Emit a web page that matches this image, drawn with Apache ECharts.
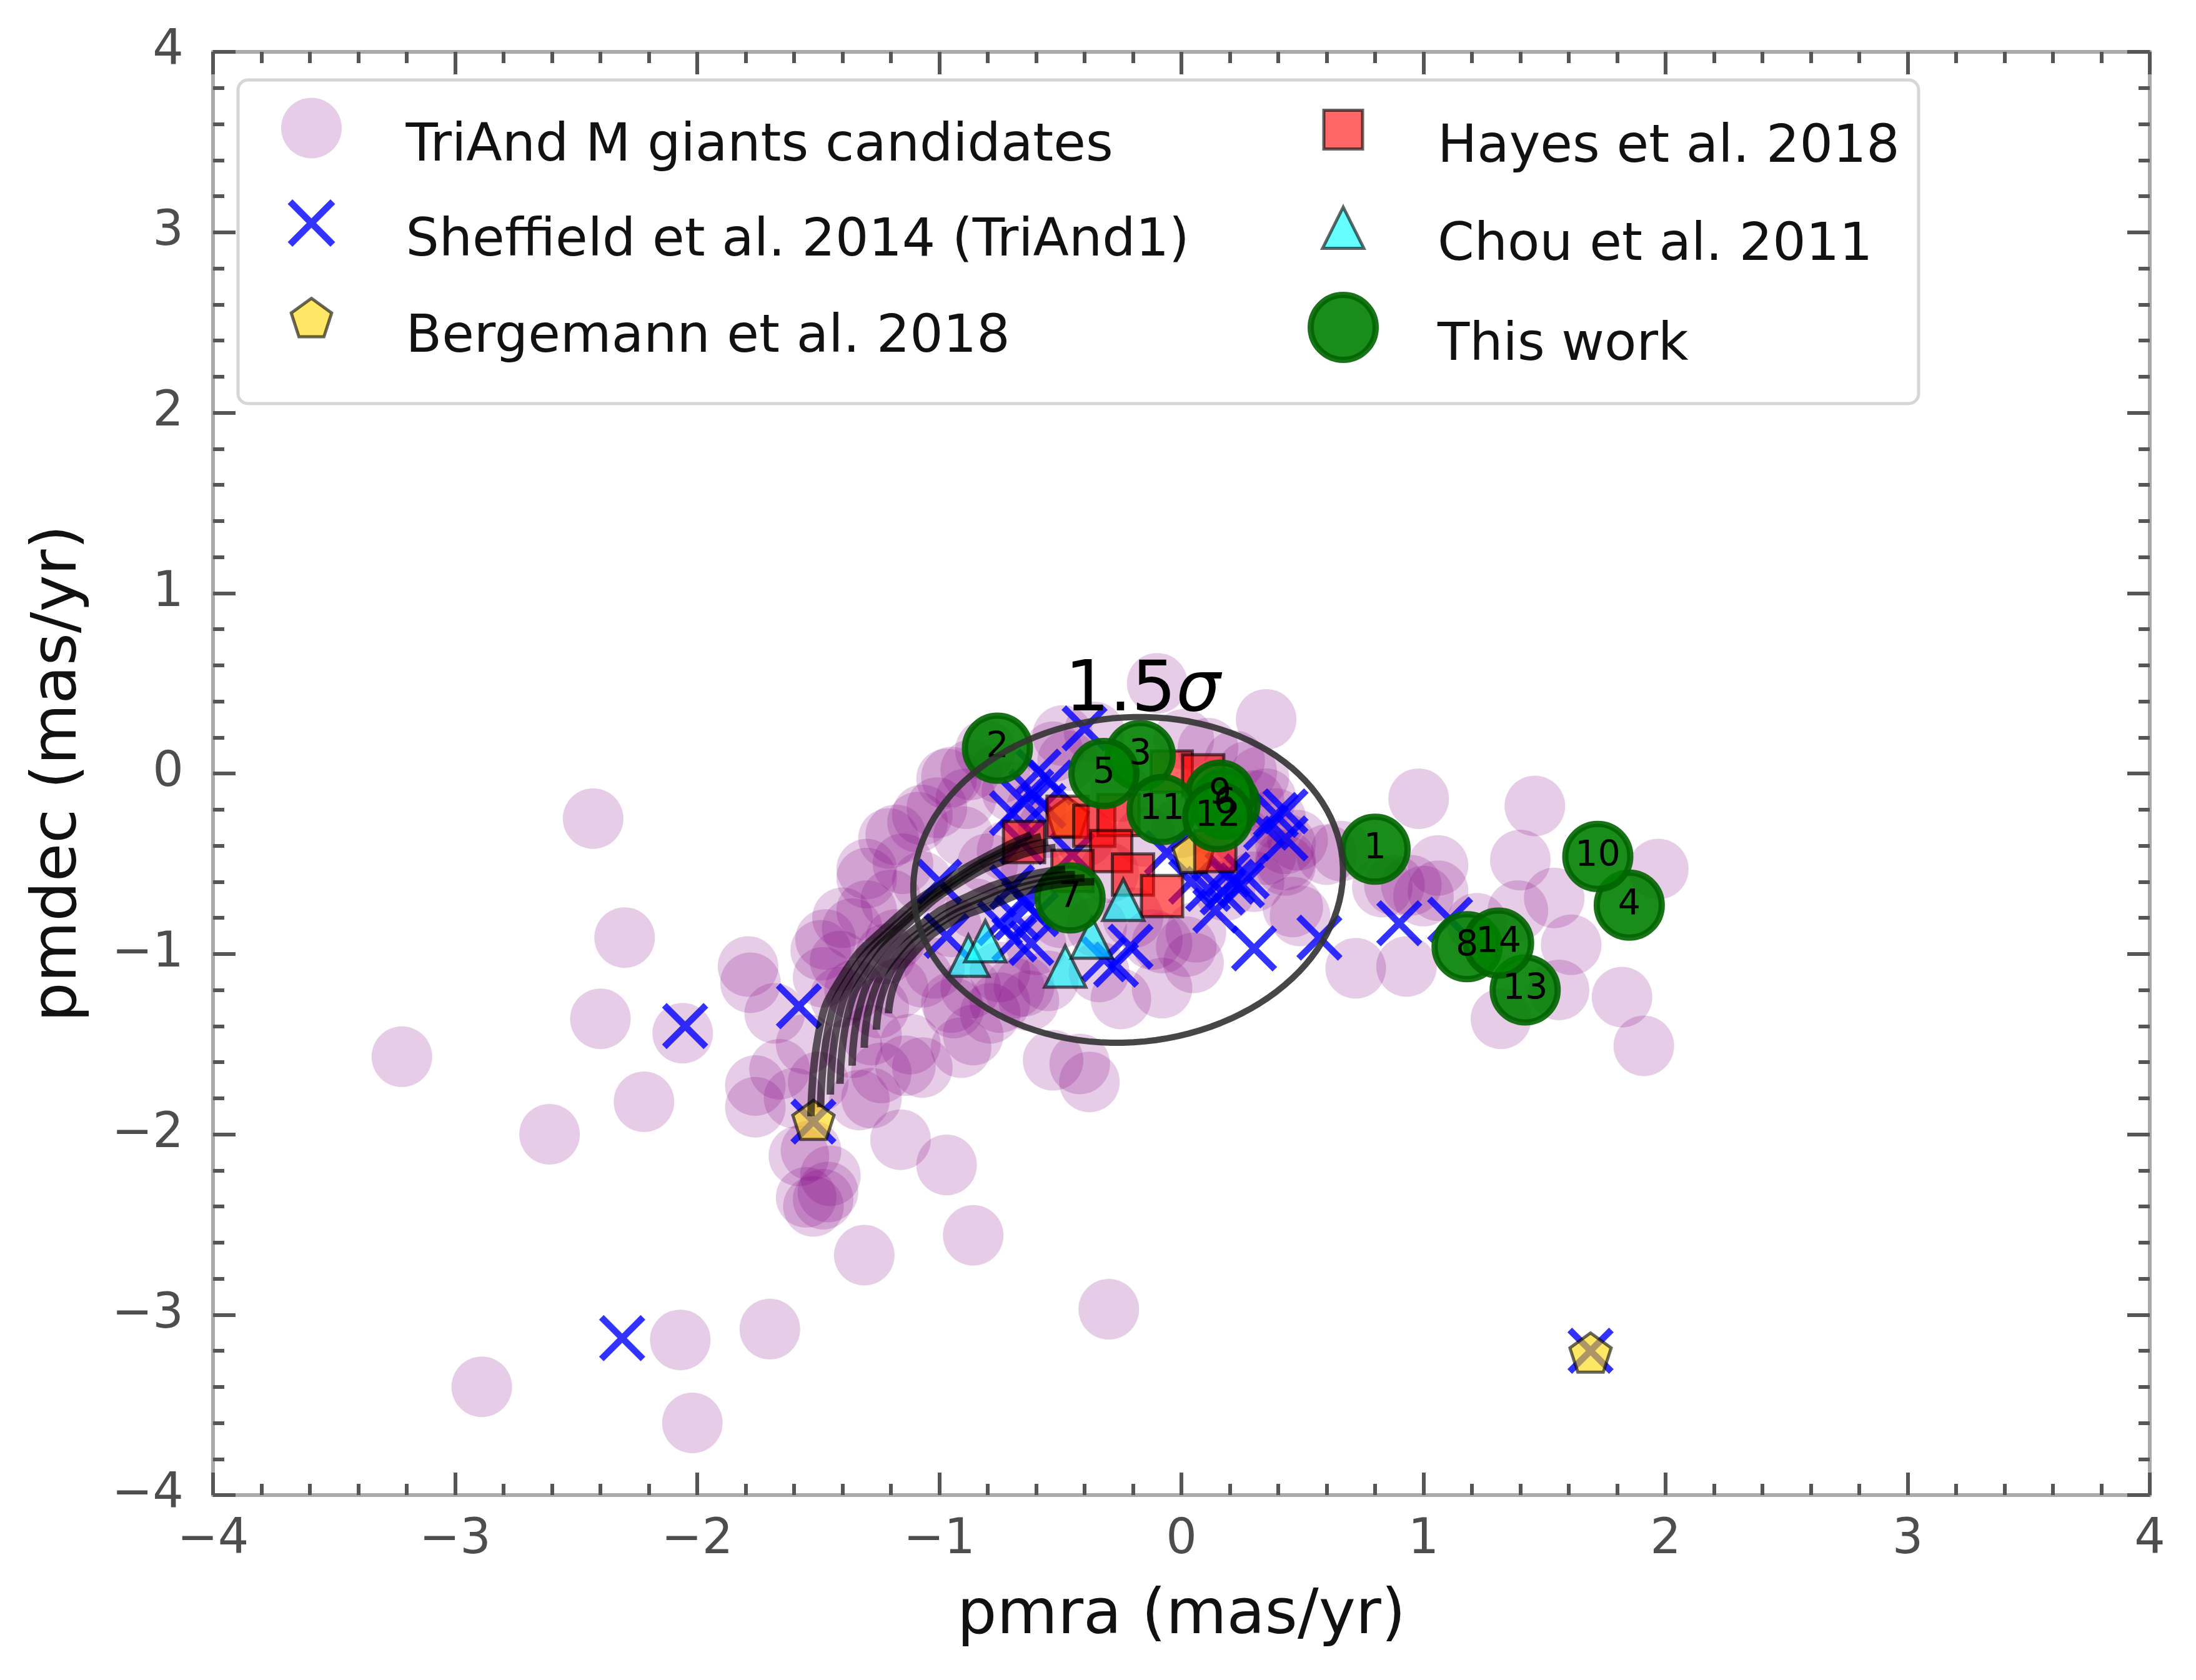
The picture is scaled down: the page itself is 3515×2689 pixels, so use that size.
<!DOCTYPE html>
<html>
<head>
<meta charset="utf-8">
<title>TriAnd proper motions</title>
<script src="https://cdn.jsdelivr.net/npm/echarts@6/dist/echarts.min.js"></script>
<style>
  html, body { margin: 0; padding: 0; background: #fff; }
  #chart { width: 3515px; height: 2689px; }
</style>
</head>
<body>
<div id="chart"></div>
<script>
// TriAnd M giants candidates
var giantsPmra = [-3.22, -2.89, -2.61, -2.43, -2.30, -2.40, -2.22, -2.06, -2.07, -2.02, -1.70, -1.31, -0.97, -0.86, -0.30,
  -1.79, -1.78, -1.68, -1.66, -1.76, -1.53, -1.55, -1.46, -1.45, -1.49, -1.33, -1.16, -1.30, -1.76, -1.50,
  -1.36, -1.24, -1.07, -1.12, -0.91, -0.53, -1.48, -1.41, -1.22, -1.17, -0.94, -0.87, -0.79, -0.69, -0.63,
  -1.07, -1.36, -1.30, -1.07, -1.30, -1.18, -1.07, -0.97, -0.87, -1.01, -0.89, -0.81, -1.41, -1.28, -1.14,
  -1.28, -1.47, -1.18, -1.02, -0.95, -0.86, -0.75, -0.65, -1.21, -1.09, -0.95, -0.72, -0.62, -0.42, -0.38,
  -0.34, -0.08, 0.02, -0.12, -1.58, -1.52, -1.48, -0.10, 0.35, 0.11, 0.22, 0.27, 0.32, 0.30, 0.35,
  0.39, 0.48, 0.43, 0.49, 0.60, 0.30, 0.18, 0.06, -0.08, -0.47, -0.53, -0.36, 0.01, -0.49, 0.43,
  0.46, 0.98, 1.46, 1.40, 1.06, 1.06, 0.83, 0.88, 0.66, 1.54, 1.97, 1.39, 1.22, 1.61, 1.56,
  1.82, 1.91, 1.32, 0.72, 0.93, 0.43, 0.95, 1.00, -0.55, -0.40, -0.25, -0.15, 0.00, 0.10, -0.30,
  -0.20, -0.50, -0.60, -0.35, 0.25, 0.35, 0.20, -0.70, -0.60, -0.75, -0.85, -0.95, -0.80, -0.90, -0.55,
  -0.75, -0.25, 0.05, -1.20, -1.15, -1.40, -1.35, -1.25, -1.55, -1.60];
var giantsPmdec = [-1.57, -3.40, -2.00, -0.25, -0.91, -1.36, -1.82, -1.44, -3.14, -3.60, -3.08, -2.67, -2.17, -2.56, -2.97,
  -1.07, -1.16, -1.33, -1.64, -1.85, -2.09, -2.35, -2.32, -2.23, -0.98, -1.81, -2.03, -0.58, -1.73, -1.71,
  -1.52, -1.66, -1.63, -1.50, -1.52, -1.59, -1.13, -1.04, -1.00, -1.19, -1.30, -1.19, -1.33, -1.19, -1.26,
  -1.13, -0.86, -0.76, -0.60, -0.53, -0.34, -0.23, -0.03, 0.02, -0.19, -0.14, 0.13, -1.24, -1.45, -1.62,
  -1.80, -0.92, -0.92, -1.08, -1.27, -1.45, -1.27, -1.18, -0.36, -0.27, -0.02, -0.43, -0.53, -1.61, -1.71,
  -1.10, -1.19, -0.96, -0.92, -2.12, -2.40, -2.36, 0.50, 0.30, 0.14, 0.07, 0.01, -0.02, -0.15, -0.14,
  -0.25, -0.37, -0.48, -0.79, -0.45, -0.60, -0.65, -0.88, -0.94, 0.07, 0.12, 0.23, 0.19, 0.21, -0.39,
  -0.74, -0.14, -0.18, -0.48, -0.51, -0.65, -0.63, -0.62, -0.43, -0.69, -0.53, -0.76, -0.83, -0.95, -1.20,
  -1.24, -1.51, -1.36, -1.08, -1.07, -0.51, -0.62, -0.68, -0.30, -0.35, -0.10, -0.35, -0.30, -0.50, -0.55,
  -0.80, -0.80, -0.95, -0.85, -0.35, -0.45, -0.20, -0.10, -0.20, 0.00, -0.75, -0.85, -0.50, -0.35, -1.15,
  -1.10, -1.25, -1.05, -0.70, -0.50, -0.80, -1.20, -1.30, -1.50, -1.80];

// Sheffield et al. 2014 (TriAnd1)
var sheffieldPmra = [-2.31, -2.05, -1.58, -1.52, 1.69, -0.40, -0.59, -0.54, -0.62, -0.65, -0.70, -0.57, -1.00, -0.97,
  -0.70, -0.65, -0.69, -0.62, -0.75, -0.60, -0.68, -0.32, -0.21, -0.27, 0.30, 0.14, -0.06, 0.21, 0.27,
  0.39, 0.43, 0.43, 0.11, 0.04, 0.35, 0.25, 0.17, 0.19, 0.57, 0.90, 1.11, -0.45, -0.66];
var sheffieldPmdec = [-3.13, -1.40, -1.29, -1.93, -3.20, 0.25, 0.01, -0.05, -0.10, -0.16, -0.22, -0.18, -0.60, -0.90,
  -0.63, -0.71, -0.92, -0.94, -0.83, -0.78, -0.80, -1.03, -0.96, -1.06, -0.97, -0.76, -0.44, -0.60, -0.57,
  -0.23, -0.36, -0.21, -0.64, -0.60, -0.30, -0.62, -0.66, -0.56, -0.91, -0.83, -0.81, -0.45, -0.38];

// Bergemann et al. 2018
var bergemannPmra = [-1.52, -0.47, 0.05, 1.69];
var bergemannPmdec = [-1.92, -0.24, -0.44, -3.21];

// Hayes et al. 2018
var hayesPmra = [-0.65, -0.47, -0.36, -0.26, -0.29, -0.20, -0.08, -0.45, -0.04, 0.09, 0.14];
var hayesPmdec = [-0.38, -0.24, -0.29, -0.23, -0.43, -0.56, -0.68, -0.54, 0.01, -0.01, -0.43];

// Chou et al. 2011
var chouPmra = [-0.88, -0.81, -0.48, -0.37, -0.24];
var chouPmdec = [-1.01, -0.93, -1.07, -0.91, -0.70];

// This work
var thisWorkIds = ['1', '2', '3', '4', '5', '6', '7', '8', '9', '10', '11', '12', '13', '14'];
var thisWorkPmra = [0.80, -0.76, -0.17, 1.85, -0.32, 0.18, -0.46, 1.18, 0.16, 1.72, -0.08, 0.15, 1.42, 1.31];
var thisWorkPmdec = [-0.42, 0.14, 0.10, -0.73, 0.00, -0.17, -0.69, -0.96, -0.12, -0.46, -0.20, -0.24, -1.20, -0.94];

// orbit tracks (pmra, pmdec)
var orbitTracks = [
  [[-1.53, -1.90], [-1.50, -1.45], [-1.40, -1.12], [-1.22, -0.85], [-0.98, -0.60], [-0.75, -0.42], [-0.62, -0.34]],
  [[-1.49, -1.85], [-1.46, -1.42], [-1.36, -1.10], [-1.18, -0.84], [-0.95, -0.60], [-0.72, -0.42], [-0.58, -0.35]],
  [[-1.45, -1.78], [-1.42, -1.38], [-1.32, -1.08], [-1.15, -0.83], [-0.93, -0.60], [-0.70, -0.43], [-0.55, -0.38]],
  [[-1.41, -1.72], [-1.38, -1.35], [-1.28, -1.06], [-1.12, -0.82], [-0.92, -0.61], [-0.68, -0.46], [-0.52, -0.41]],
  [[-1.36, -1.62], [-1.33, -1.30], [-1.24, -1.05], [-1.08, -0.84], [-0.88, -0.68], [-0.65, -0.57], [-0.48, -0.53]],
  [[-1.31, -1.52], [-1.28, -1.25], [-1.19, -1.03], [-1.04, -0.84], [-0.85, -0.70], [-0.62, -0.59], [-0.44, -0.56]],
  [[-1.26, -1.42], [-1.23, -1.20], [-1.15, -1.01], [-1.01, -0.84], [-0.82, -0.71], [-0.60, -0.61], [-0.40, -0.58]],
  [[-1.21, -1.33], [-1.18, -1.15], [-1.10, -0.99], [-0.97, -0.84], [-0.78, -0.73], [-0.57, -0.63], [-0.36, -0.60]]
];

// 1.5 sigma contour
var sigmaCenter = [-0.22, -0.59];
var sigmaAxes = [0.92, 0.87];
var sigmaAngle = 54;
var sigmaLabelAt = [-0.16, 0.45];

var FONT = 'DejaVu Sans';

function zip(xs, ys, extra) {
  return xs.map(function (x, i) {
    return extra ? [x, ys[i], extra[i]] : [x, ys[i]];
  });
}

function ellipsePoints() {
  var pts = [], th = sigmaAngle * Math.PI / 180;
  for (var d = 0; d <= 360; d += 3) {
    var t = d * Math.PI / 180;
    var ca = sigmaAxes[0] * Math.cos(t), sb = sigmaAxes[1] * Math.sin(t);
    pts.push([sigmaCenter[0] + ca * Math.cos(th) - sb * Math.sin(th),
      sigmaCenter[1] + ca * Math.sin(th) + sb * Math.cos(th)]);
  }
  return pts;
}

// marker outlines in a 20x20 box
var X_PTS = [[0, 2], [2, 0], [10, 8], [18, 0], [20, 2], [12, 10], [20, 18], [18, 20], [10, 12], [2, 20], [0, 18], [8, 10]];
var PENT_PTS = [[10, 0], [19.51, 6.91], [15.88, 18.09], [4.12, 18.09], [0.49, 6.91]];
var RECT_PTS = [[0, 0], [20, 0], [20, 20], [0, 20]];
var TRI_PTS = [[10, 0], [20, 20], [0, 20]];

// legend icons live in an ICON_W x ICON_H box, shape centred in the top square
var ICON_W = 114, ICON_H = 174;

function polyPath(pts, size, legend) {
  var s = size / 20, off = legend ? (ICON_W - size) / 2 : 0;
  var head = legend ? 'M0 0M' + ICON_W + ' ' + ICON_H : '';
  return 'path://' + head + 'M' + pts.map(function (p) {
    return (p[0] * s + off).toFixed(2) + ' ' + (p[1] * s + off).toFixed(2);
  }).join('L') + 'Z';
}
function circleIcon(d) {
  var c = ICON_W / 2, r = d / 2;
  return 'path://M0 0M' + ICON_W + ' ' + ICON_H + 'M' + (c - r) + ' ' + c +
    'A' + r + ' ' + r + ' 0 1 1 ' + (c + r) + ' ' + c +
    'A' + r + ' ' + r + ' 0 1 1 ' + (c - r) + ' ' + c + 'Z';
}

var minus = function (v) { return String(v).replace('-', '\u2212'); };

function axisOf(pos, showLabel, isX) {
  return {
    type: 'value', position: pos, min: -4, max: 4, interval: 1,
    axisLine: { show: true, onZero: false, lineStyle: { color: '#aaaaaa', width: 6 } },
    axisTick: { show: true, inside: true, length: 36, lineStyle: { color: '#555', width: 6 } },
    minorTick: { show: true, splitNumber: 5, length: 18, lineStyle: { color: '#555', width: 6 } },
    splitLine: { show: false },
    axisLabel: {
      show: showLabel, margin: isX ? 34 : 47, fontSize: 78, color: '#4d4d4d',
      fontFamily: FONT, formatter: minus
    },
    name: showLabel ? (isX ? 'pmra (mas/yr)' : 'pmdec (mas/yr)') : '',
    nameLocation: 'middle', nameGap: isX ? 145 : 196,
    nameTextStyle: { fontSize: 100, color: '#111', fontFamily: FONT }
  };
}

var legendText = { fontSize: 84, lineHeight: 84, color: '#111', fontFamily: FONT, padding: [0, 0, 0, 89] };

var series = [];

series.push({
  name: 'TriAnd M giants candidates', type: 'scatter', silent: true,
  data: zip(giantsPmra, giantsPmdec), symbol: 'circle', symbolSize: 97,
  itemStyle: { color: 'rgba(128,0,128,0.2)', opacity: 1 }
});

orbitTracks.forEach(function (tr) {
  series.push({
    type: 'line', silent: true, data: tr, smooth: 0.5, symbol: 'none',
    lineStyle: { color: 'rgba(0,0,0,0.62)', width: 12 }
  });
});

series.push({
  type: 'line', silent: true, data: ellipsePoints(), symbol: 'none', smooth: false,
  lineStyle: { color: 'rgba(50,50,50,0.9)', width: 10 }
});

series.push({
  name: 'Sheffield et al. 2014 (TriAnd1)', type: 'scatter', silent: true,
  data: zip(sheffieldPmra, sheffieldPmdec), symbol: polyPath(X_PTS, 20), symbolSize: 74,
  itemStyle: { color: 'rgba(0,0,255,0.8)', opacity: 1 }
});

series.push({
  name: 'Bergemann et al. 2018', type: 'scatter', silent: true,
  data: zip(bergemannPmra, bergemannPmdec), symbol: polyPath(PENT_PTS, 20), symbolSize: 66, symbolKeepAspect: true,
  itemStyle: { color: 'rgba(255,215,0,0.6)', borderColor: 'rgba(0,0,0,0.6)', borderWidth: 5, opacity: 1 }
});

series.push({
  name: 'Hayes et al. 2018', type: 'scatter', silent: true,
  data: zip(hayesPmra, hayesPmdec), symbol: 'rect', symbolSize: 66,
  itemStyle: { color: 'rgba(255,0,0,0.6)', borderColor: 'rgba(0,0,0,0.6)', borderWidth: 5, opacity: 1 }
});

series.push({
  name: 'Chou et al. 2011', type: 'scatter', silent: true,
  data: zip(chouPmra, chouPmdec), symbol: 'triangle', symbolSize: 66,
  itemStyle: { color: 'rgba(0,255,255,0.6)', borderColor: 'rgba(0,0,0,0.6)', borderWidth: 5, opacity: 1 }
});

series.push({
  name: 'This work', type: 'scatter', silent: true,
  data: zip(thisWorkPmra, thisWorkPmdec, thisWorkIds), symbol: 'circle', symbolSize: 104,
  itemStyle: { color: 'rgba(0,128,0,0.9)', borderColor: 'rgba(0,100,0,0.9)', borderWidth: 10, opacity: 1 },
  label: {
    show: true, position: 'inside', color: '#000', fontSize: 57, fontFamily: FONT,
    formatter: function (p) { return p.value[2]; }
  }
});

series.push({
  type: 'scatter', silent: true, data: [sigmaLabelAt], symbolSize: 1,
  itemStyle: { color: 'rgba(0,0,0,0)', opacity: 1 },
  label: {
    show: true, position: 'inside', formatter: '{n|1.5}{s|\u03c3}',
    rich: {
      n: { fontSize: 112, color: '#000', fontFamily: FONT },
      s: { fontSize: 112, color: '#000', fontFamily: FONT, fontStyle: 'italic' }
    }
  }
});

var legendCommon = {
  orient: 'vertical', top: 143, itemWidth: ICON_W, itemHeight: ICON_H, itemGap: -22,
  selectedMode: false, textStyle: legendText, itemStyle: { borderWidth: 'inherit' }
};

var chart = echarts.init(document.getElementById('chart'));
chart.setOption({
  animation: false,
  backgroundColor: '#fff',
  grid: { left: 341, top: 83, right: 74, bottom: 296 },
  xAxis: [axisOf('bottom', true, true), axisOf('top', false, true)],
  yAxis: [axisOf('left', true, false), axisOf('right', false, false)],
  graphic: [{
    type: 'rect', z: 3,
    shape: { x: 381, y: 128, width: 2690, height: 518, r: 16 },
    style: { fill: 'rgba(255,255,255,0.8)', stroke: '#d6d6d6', lineWidth: 5 }
  }],
  legend: [
    Object.assign({}, legendCommon, {
      left: 434,
      data: [
        { name: 'TriAnd M giants candidates', icon: circleIcon(97) },
        { name: 'Sheffield et al. 2014 (TriAnd1)', icon: polyPath(X_PTS, 76, true) },
        { name: 'Bergemann et al. 2018', icon: polyPath(PENT_PTS, 68, true) }
      ]
    }),
    Object.assign({}, legendCommon, {
      left: 2083,
      data: [
        { name: 'Hayes et al. 2018', icon: polyPath(RECT_PTS, 62, true) },
        { name: 'Chou et al. 2011', icon: polyPath(TRI_PTS, 66, true) },
        { name: 'This work', icon: circleIcon(104) }
      ]
    })
  ],
  series: series
});
</script>
</body>
</html>
